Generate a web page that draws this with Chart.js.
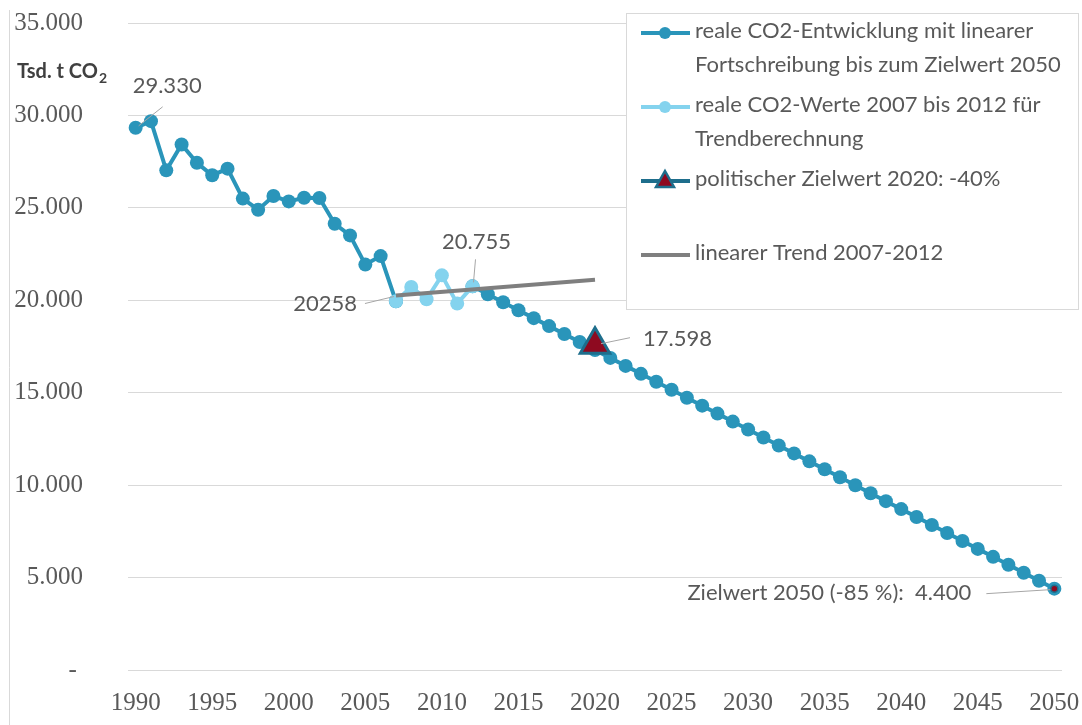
<!DOCTYPE html>
<html>
<head>
<meta charset="utf-8">
<script src="https://cdn.jsdelivr.net/npm/chart.js@4.4.0/dist/chart.umd.min.js"></script>
<style>
html, body { margin: 0; padding: 0; background: #fff; }
#wrap { position: relative; width: 1082px; height: 725px; }
</style>
</head>
<body>
<div id="wrap"><canvas id="chart" width="1082" height="725"></canvas></div>
<script>
// categories
var years = ['1990','1991','1992','1993','1994','1995','1996','1997','1998','1999',
    '2000','2001','2002','2003','2004','2005','2006','2007','2008','2009',
    '2010','2011','2012','2013','2014','2015','2016','2017','2018','2019',
    '2020','2021','2022','2023','2024','2025','2026','2027','2028','2029',
    '2030','2031','2032','2033','2034','2035','2036','2037','2038','2039',
    '2040','2041','2042','2043','2044','2045','2046','2047','2048','2049','2050'];

// real CO2 values + linear continuation up to 2050 (2008-2011 drawn by the light series)
var realValues = [29330, 29690, 27030, 28430, 27440, 26760, 27120, 25500, 24900, 25640,
    25350, 25550, 25530, 24140, 23510, 21930, 22390, 19944, null, null,
    null, null, 20755, 20325, 19894, 19464, 19034, 18603, 18173, 17742,
    17312, 16882, 16451, 16021, 15590, 15160, 14730, 14299, 13869, 13438,
    13008, 12578, 12147, 11717, 11286, 10856, 10426, 9995, 9565, 9134,
    8704, 8274, 7843, 7413, 6982, 6552, 6122, 5691, 5261, 4830, 4400];

// real values used for the trend
var trendBaseYears = ['2007','2008','2009','2010','2011','2012'];
var trendBaseValues = [19944, 20718, 20053, 21350, 19820, 20755];

// linear trend 2007-2012
var trendYears = ['2007','2020'];
var trendValues = [20258, 21110];

// targets
var target2020Years = ['2020'];
var target2020Values = [17598];
var target2050Years = ['2050'];
var target2050Values = [4400];

var yTickValues = [0, 5000, 10000, 15000, 20000, 25000, 30000, 35000];
var yTickLabels = ['- ', '5.000', '10.000', '15.000', '20.000', '25.000', '30.000', '35.000'];

var legendLabels = [
    ['reale CO2-Entwicklung mit linearer', 'Fortschreibung bis zum Zielwert 2050'],
    ['reale CO2-Werte 2007 bis 2012 für', 'Trendberechnung'],
    ['politischer Zielwert 2020: -40%'],
    ['linearer Trend 2007-2012']
];

var DARK = '#2A95BA';
var LIGHT = '#84D3EE';
var GREY = '#7F7F7F';
var RED = '#8E0A20';
var NAVY = '#1E6E8C';
var TEXT = '#595959';

function pairs(xs, ys){
    return xs.map(function(x, i){ return {x: x, y: ys[i]}; });
}

var extras = {
    id: 'extras',
    beforeDraw: function(chart){
        var ctx = chart.ctx;
        ctx.save();
        ctx.strokeStyle = '#D9D9D9';
        ctx.lineWidth = 1;
        ctx.beginPath();
        ctx.moveTo(9.5, 10);
        ctx.lineTo(9.5, 725);
        ctx.stroke();
        ctx.restore();
    },
    afterDraw: function(chart){
        var ctx = chart.ctx;
        var xs = chart.scales.x, ys = chart.scales.y;
        function px(year){ return xs.getPixelForValue(years.indexOf(year)); }
        function py(v){ return ys.getPixelForValue(v); }

        ctx.save();
        // axis title
        ctx.fillStyle = '#404040';
        ctx.textBaseline = 'middle';
        ctx.textAlign = 'left';
        ctx.font = 'bold 20px Lato';
        ctx.fillText('Tsd. t CO', 17, 72);
        var w = ctx.measureText('Tsd. t CO').width;
        ctx.font = 'bold 14px Lato';
        ctx.fillText('2', 17 + w + 1, 78);

        // value labels with leader lines
        ctx.font = '22px Lato';
        ctx.fillStyle = TEXT;
        ctx.strokeStyle = '#A6A6A6';
        ctx.lineWidth = 1;
        function leader(x1, y1, x2, y2){
            ctx.beginPath();
            ctx.moveTo(x1, y1);
            ctx.lineTo(x2, y2);
            ctx.stroke();
        }
        var x90 = px('1990'), y90 = py(realValues[0]);
        leader(x90 + 27, y90 - 21, x90 + 3, y90 - 2);
        ctx.textAlign = 'left';
        ctx.fillText('29.330', x90 - 3, y90 - 42);

        var x12 = px('2012'), y12 = py(trendBaseValues[5]);
        leader(x12 + 3, y12 - 27, x12 + 1, y12 - 4);
        ctx.textAlign = 'center';
        ctx.fillText('20.755', x12 + 4, y12 - 44);

        var x07 = px('2007'), y07 = py(trendValues[0]);
        leader(x07 - 31, y07 + 8, x07 - 2, y07 + 1);
        ctx.textAlign = 'right';
        ctx.fillText('20258', x07 - 39, y07 + 8);

        var x20 = px('2020'), y20 = py(target2020Values[0]);
        leader(x20 + 35, y20 - 7, x20 + 6, y20 - 1);
        ctx.textAlign = 'left';
        ctx.fillText('17.598', x20 + 48, y20 - 6);

        var x50 = px('2050'), y50 = py(target2050Values[0]);
        leader(x50 - 68, y50 + 5, x50 - 4, y50 + 1);
        ctx.textAlign = 'right';
        ctx.fillText('Zielwert 2050 (-85 %):  4.400', x50 - 83, y50 + 4);

        // legend
        var lx = 626, ly = 13, lw = 452, lh = 296;
        ctx.fillStyle = '#fff';
        ctx.fillRect(lx, ly, lw, lh);
        ctx.strokeStyle = '#D9D9D9';
        ctx.lineWidth = 1;
        ctx.strokeRect(lx + 0.5, ly + 0.5, lw, lh);
        var rows = [33, 107, 181, 255];
        var lineCols = [DARK, LIGHT, NAVY, GREY];
        for (var i = 0; i < legendLabels.length; i++){
            var sy = rows[i];
            ctx.strokeStyle = lineCols[i];
            ctx.lineWidth = 4;
            ctx.beginPath();
            ctx.moveTo(641, sy);
            ctx.lineTo(690, sy);
            ctx.stroke();
            if (i < 2){
                ctx.fillStyle = lineCols[i];
                ctx.beginPath();
                ctx.arc(665, sy, 6, 0, Math.PI * 2);
                ctx.fill();
            } else if (i === 2){
                ctx.fillStyle = RED;
                ctx.strokeStyle = NAVY;
                ctx.lineWidth = 2.5;
                ctx.beginPath();
                ctx.moveTo(665, sy - 10);
                ctx.lineTo(674, sy + 6);
                ctx.lineTo(656, sy + 6);
                ctx.closePath();
                ctx.fill();
                ctx.stroke();
            }
            ctx.fillStyle = TEXT;
            ctx.font = '22px Lato';
            ctx.textAlign = 'left';
            ctx.textBaseline = 'middle';
            for (var j = 0; j < legendLabels[i].length; j++){
                ctx.fillText(legendLabels[i][j], 695, sy - 2 + j * 34);
            }
        }
        ctx.restore();
    }
};

new Chart(document.getElementById('chart'), {
    type: 'line',
    data: {
        labels: years,
        datasets: [
            {
                label: 'Zielwert 2050',
                data: pairs(target2050Years, target2050Values),
                showLine: false,
                pointRadius: 3.5,
                pointBorderWidth: 1.5,
                pointBackgroundColor: RED,
                pointBorderColor: NAVY,
                order: 0
            },
            {
                label: legendLabels[2].join(' '),
                data: pairs(target2020Years, target2020Values),
                showLine: false,
                pointStyle: 'triangle',
                pointRadius: 17,
                pointBorderWidth: 3,
                pointBackgroundColor: RED,
                pointBorderColor: NAVY,
                order: 1
            },
            {
                label: legendLabels[3].join(' '),
                data: pairs(trendYears, trendValues),
                borderColor: GREY,
                borderWidth: 4,
                pointRadius: 0,
                order: 2
            },
            {
                label: legendLabels[1].join(' '),
                data: pairs(trendBaseYears, trendBaseValues),
                borderColor: LIGHT,
                backgroundColor: LIGHT,
                borderWidth: 4,
                pointRadius: 7,
                pointBorderWidth: 0,
                order: 3
            },
            {
                label: legendLabels[0].join(' '),
                data: realValues,
                borderColor: DARK,
                backgroundColor: DARK,
                borderWidth: 4,
                pointRadius: 7,
                pointBorderWidth: 0,
                spanGaps: false,
                order: 4
            }
        ]
    },
    options: {
        responsive: false,
        animation: false,
        layout: { padding: { left: 0, top: 23, right: 16, bottom: 0 } },
        plugins: {
            legend: { display: false },
            tooltip: { enabled: false }
        },
        scales: {
            x: {
                type: 'category',
                offset: true,
                grid: { display: false, drawTicks: true, tickLength: 18 },
                border: { display: false },
                ticks: {
                    autoSkip: false,
                    maxRotation: 0,
                    padding: 0,
                    color: TEXT,
                    font: { family: 'Liberation Sans Narrow', size: 25 },
                    callback: function(v, i){
                        var y = years[i];
                        return (parseInt(y, 10) % 5 === 0) ? y : '';
                    }
                },
                afterFit: function(s){ s.height = 55; }
            },
            y: {
                min: 0,
                max: 35000,
                grid: { color: '#D9D9D9', lineWidth: 1, drawTicks: true, tickLength: 45, tickColor: 'rgba(0,0,0,0)' },
                border: { display: false },
                afterBuildTicks: function(s){
                    s.ticks = yTickValues.map(function(v){ return {value: v}; });
                },
                ticks: {
                    padding: 0,
                    color: TEXT,
                    font: { family: 'Liberation Sans Narrow', size: 25 },
                    callback: function(v){
                        return yTickLabels[yTickValues.indexOf(v)];
                    }
                },
                afterFit: function(s){ s.width = 128; }
            }
        }
    },
    plugins: [extras]
});
</script>
</body>
</html>
